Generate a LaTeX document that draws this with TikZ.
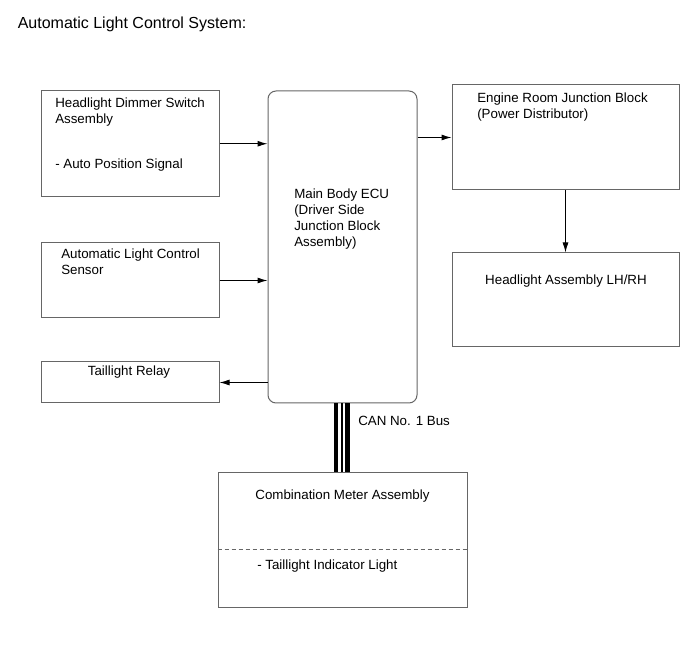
\documentclass[tikz,border=0pt]{standalone}
\usepackage{fontspec}
\setmainfont{Liberation Sans}
\usetikzlibrary{arrows.meta}
\begin{document}
\begin{tikzpicture}[x=0.75pt,y=-0.75pt,
  bx/.style={draw=black!60,line width=0.75pt,rectangle,inner sep=0pt},
  ecubox/.style={bx,rounded corners=6pt},
  txt/.style={inner sep=0pt,anchor=base west,font=\fontsize{10}{12}\selectfont},
  ctxt/.style={txt,anchor=base},
  arr/.style={line width=0.75pt,-{Latex[length=7.5pt,width=4.5pt]}},
  bus/.style={line width=#1},
]
\useasboundingbox (0,0) rectangle (690,659);
\node[inner sep=0pt,anchor=base west,font=\fontsize{12}{14}\selectfont] (title) at (17.5,28.5) {Automatic Light Control System:};

% boxes
\node[bx,minimum width={177.5*0.75pt},minimum height={106.5*0.75pt}] (hdsw) at (130.25,143.75) {};
\node[bx,minimum width={177.5*0.75pt},minimum height={75*0.75pt}] (alc) at (130.25,280.5) {};
\node[bx,minimum width={177.5*0.75pt},minimum height={41*0.75pt}] (tr) at (130.25,382.5) {};
\node[ecubox,minimum width={149*0.75pt},minimum height={312*0.75pt}] (ecu) at (342.5,247) {};
\node[bx,minimum width={227*0.75pt},minimum height={105*0.75pt}] (erjb) at (565.5,137.5) {};
\node[bx,minimum width={227*0.75pt},minimum height={94*0.75pt}] (hl) at (565.5,300) {};
\node[bx,minimum width={249*0.75pt},minimum height={135*0.75pt}] (cmb) at (342.5,540.5) {};

% texts
\node[txt] (t1a) at (55,108) {Headlight Dimmer Switch};
\node[txt] (t1b) at (55,124) {Assembly};
\node[txt] (t1c) at (55,169) {- Auto Position Signal};
\node[txt] (t2a) at (61,258.5) {Automatic Light Control};
\node[txt] (t2b) at (61,275) {Sensor};
\node[ctxt] (t3) at (129,376) {Taillight Relay};
\node[txt] (t4a) at (294,199) {Main Body ECU};
\node[txt] (t4b) at (294,215) {(Driver Side};
\node[txt] (t4c) at (294,231) {Junction Block};
\node[txt] (t4d) at (294,247) {Assembly)};
\node[txt] (t5a) at (477,103) {Engine Room Junction Block};
\node[txt] (t5b) at (477,118.5) {(Power Distributor)};
\node[ctxt] (t6) at (566,285) {Headlight Assembly LH/RH};
\node[txt] (t7) at (358,426) {CAN No. 1 Bus};
\node[ctxt] (t8a) at (342.5,500) {Combination Meter Assembly};
\node[txt] (t8b) at (257,570) {- Taillight Indicator Light};

% dashed separator
\coordinate (dl) at (0,550);
\draw[black!60,line width=0.75pt,dash pattern=on 3pt off 2.25pt] (cmb.west |- dl) -- (cmb.east |- dl);

% connectors
\draw[arr] (hdsw.east) -- (hdsw.east -| ecu.west);
\draw[arr] (alc.east) -- (alc.east -| ecu.west);
\draw[arr] (tr.east -| ecu.west) -- (tr.east);
\draw[arr] (ecu.east |- erjb.west) -- (erjb.west);
\draw[arr] (erjb.south) -- (hl.north);

% CAN bus
\draw[bus=3pt] ([shift={(-6.5,0)}]ecu.south) -- ([shift={(-6.5,0)}]ecu.south |- cmb.north);
\draw[bus=0.9pt] ([shift={(-0.5,0)}]ecu.south) -- ([shift={(-0.5,0)}]ecu.south |- cmb.north);
\draw[bus=3.4pt] ([shift={(5,0)}]ecu.south) -- ([shift={(5,0)}]ecu.south |- cmb.north);
\end{tikzpicture}
\end{document}
